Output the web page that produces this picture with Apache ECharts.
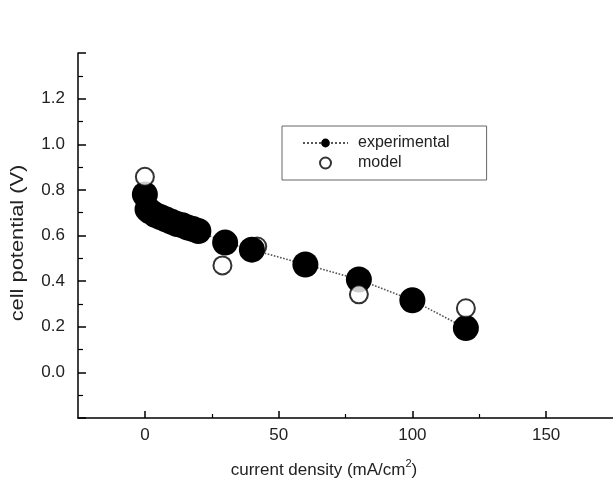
<!DOCTYPE html>
<html><head><meta charset="utf-8">
<script src="https://cdn.jsdelivr.net/npm/echarts@6/dist/echarts.min.js"></script>
<style>html,body{margin:0;padding:0;background:#fff}#c{width:613px;height:487px}</style>
</head><body><div id="c"></div>
<script>
// experimental data
const expX = [0, 1, 2, 4, 6, 8, 10, 12, 14, 16, 18, 20, 30, 40, 60, 80, 100, 120];
const expY = [0.78, 0.715, 0.705, 0.69, 0.68, 0.67, 0.66, 0.65, 0.645, 0.635, 0.628, 0.62, 0.569, 0.538, 0.473, 0.407, 0.316, 0.194];
// model data (visible on top)
const modelX = [0, 29, 80, 120];
const modelY = [0.857, 0.469, 0.342, 0.281];
// model point hidden behind experimental marker
const modelHiddenX = [42];
const modelHiddenY = [0.552];
const xTicks = [0, 50, 100, 150];
const xMinorTicks = [25, 75, 125];
const yTicks = [0.0, 0.2, 0.4, 0.6, 0.8, 1.0, 1.2];

const zip = (a, b) => a.map((v, i) => [v, b[i]]);
const FONT = '"Liberation Sans", Arial, sans-serif';

const chart = echarts.init(document.getElementById('c'), null, {renderer: 'canvas'});
chart.setOption({
  animation: false,
  backgroundColor: '#fff',
  grid: {left: 78, right: 0, top: 53, bottom: 69, containLabel: false},
  xAxis: [{
    type: 'value', min: -25, max: 175, interval: 25,
    axisLine: {onZero: false, lineStyle: {color: '#000', width: 1.5}},
    axisTick: {inside: true, length: 7, customValues: xTicks, lineStyle: {color: '#000', width: 1.5}},
    splitLine: {show: false},
    axisLabel: {margin: 9, fontSize: 17, color: '#222', fontFamily: FONT, customValues: xTicks}
  }, {
    type: 'value', min: -25, max: 175, interval: 25, position: 'bottom',
    axisLine: {show: false, onZero: false},
    axisTick: {inside: true, length: 4, customValues: xMinorTicks, lineStyle: {color: '#000', width: 1.2}},
    splitLine: {show: false},
    axisLabel: {show: false}
  }],
  yAxis: {
    type: 'value', min: -0.2, max: 1.4, interval: 0.2,
    axisLine: {onZero: false, lineStyle: {color: '#000', width: 1.5}},
    axisTick: {inside: true, length: 8, lineStyle: {color: '#000', width: 1.5}},
    minorTick: {show: true, splitNumber: 2, length: 5, lineStyle: {color: '#000', width: 1.2}},
    splitLine: {show: false},
    axisLabel: {
      margin: 13, fontSize: 17, color: '#222', fontFamily: FONT,
      formatter: v => {
        const r = Math.round(v * 10) / 10;
        return yTicks.some(t => Math.abs(t - r) < 1e-9) ? r.toFixed(1) : '';
      }
    }
  },
  legend: {
    data: ['experimental', 'model'],
    orient: 'vertical', left: 282, top: 126,
    padding: [9, 37, 9, 20],
    itemWidth: 45, itemHeight: 11, itemGap: 4,
    borderColor: '#666', borderWidth: 1, backgroundColor: '#fff',
    textStyle: {fontSize: 16, lineHeight: 16, color: '#222', fontFamily: FONT, padding: [0, 0, 0, 5]}
  },
  graphic: [
    {type: 'text', x: 324, y: 470, style: {
      text: 'current density (mA/cm{sup|2})', align: 'center', verticalAlign: 'middle',
      font: '17px ' + FONT, fill: '#222',
      rich: {sup: {fontSize: 11, verticalAlign: 'top', padding: [0, 0, 12, 0], fill: '#222', fontFamily: FONT}}
    }},
    {type: 'text', x: 18, y: 243, rotation: Math.PI / 2, scaleX: 1.15, style: {
      text: 'cell potential (V)', align: 'center', verticalAlign: 'middle',
      font: '19px ' + FONT, fill: '#222'
    }}
  ],
  series: [
    {name: 'model', type: 'scatter', z: 1, data: zip(modelHiddenX, modelHiddenY),
      symbol: 'circle', symbolSize: 18,
      itemStyle: {color: '#fff', borderColor: '#000', borderWidth: 2}},
    {name: 'experimental', type: 'line', z: 2, data: zip(expX, expY),
      symbol: 'circle', symbolSize: 26, showAllSymbol: true,
      lineStyle: {type: 'dotted', color: '#555', width: 1.6},
      itemStyle: {color: '#000'}},
    {name: 'model', type: 'scatter', z: 3, data: zip(modelX, modelY),
      symbol: 'circle', symbolSize: 18,
      itemStyle: {color: '#fff', borderColor: '#000', borderWidth: 2}}
  ]
});
</script></body></html>
